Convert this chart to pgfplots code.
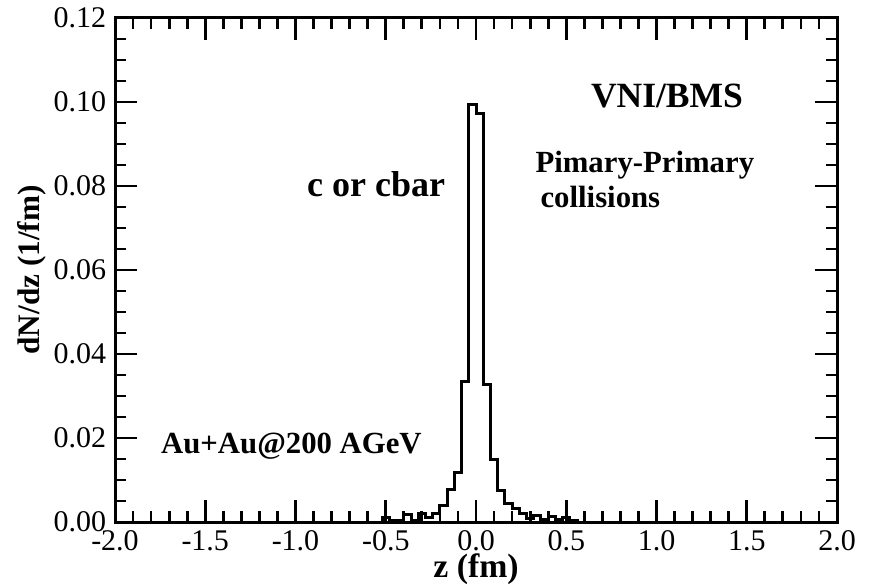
\documentclass[border=0pt]{standalone}
\usepackage{pgfplots}
\pgfplotsset{compat=1.18}
\usepackage{fontspec}
\setmainfont{Liberation Serif}
\begin{document}
\begin{tikzpicture}
\begin{axis}[
  name=ax,
  scale only axis,
  width=288.8pt, height=201.6pt,
  xmin=-2, xmax=2, ymin=0, ymax=0.12,
  xtick={-2,-1.5,...,2}, ytick={0,0.02,...,0.12},
  minor x tick num=4, minor y tick num=3,
  major tick length=8.8pt, minor tick length=4.4pt,
  tick align=inside,
  axis line style={line width=1.2pt},
  every tick/.style={line width=1.1pt, black},
  /pgf/number format/assume math mode=true,
  x tick label style={/pgf/number format/.cd, fixed, fixed zerofill, precision=1},
  y tick label style={/pgf/number format/.cd, fixed, fixed zerofill, precision=2},
  tick label style={font=\fontsize{12}{14}\selectfont},
  xlabel={\textbf{z (fm)}},
  ylabel={\textbf{dN/dz (1/fm)}},
  label style={font=\fontsize{12.5}{14}\selectfont},
  xlabel style={font=\fontsize{13.5}{15}\selectfont, yshift=3.5pt, inner sep=1pt},
  ylabel style={yshift=-4pt},
  clip=false,
]
\addplot[const plot, line width=1.2pt, black] coordinates {
(-0.56,0) (-0.52,0.0010) (-0.48,0.0004) (-0.44,0.0004) (-0.40,0.0018) (-0.36,0.0004)
(-0.32,0.0020) (-0.28,0.0010) (-0.24,0.0020) (-0.20,0.0040) (-0.16,0.0078) (-0.12,0.0118)
(-0.08,0.0334) (-0.04,0.0993) (0,0.0972) (0.04,0.0328) (0.08,0.0148) (0.12,0.0075)
(0.16,0.0044) (0.20,0.0032) (0.24,0.0020) (0.28,0.0008) (0.32,0.0016) (0.36,0.0006)
(0.40,0.0012) (0.44,0.0005) (0.48,0.0010) (0.52,0.0003) (0.56,0)
};
\node[anchor=base, font=\fontsize{14.2}{16}\selectfont\bfseries] at (axis cs:1.058,0.0988) {VNI/BMS};
\node[anchor=base west, inner sep=0pt, font=\fontsize{12.3}{14}\selectfont\bfseries] at (axis cs:0.327,0.0833) {Pimary-Primary};
\node[anchor=base west, inner sep=0pt, font=\fontsize{12.3}{14}\selectfont\bfseries] at (axis cs:0.355,0.0748) {collisions};
\node[anchor=base west, inner sep=0pt, font=\fontsize{14.4}{16}\selectfont\bfseries] at (axis cs:-0.938,0.0774) {c or cbar};
\node[anchor=base west, inner sep=0pt, font=\fontsize{12.3}{14}\selectfont\bfseries] at (axis cs:-1.747,0.0162) {Au+Au@200 AGeV};
\end{axis}
\pgfresetboundingbox
\path[use as bounding box] (ax.south west) ++(-46pt,-26pt) rectangle ++(352.4pt,234.8pt);
\end{tikzpicture}
\end{document}
